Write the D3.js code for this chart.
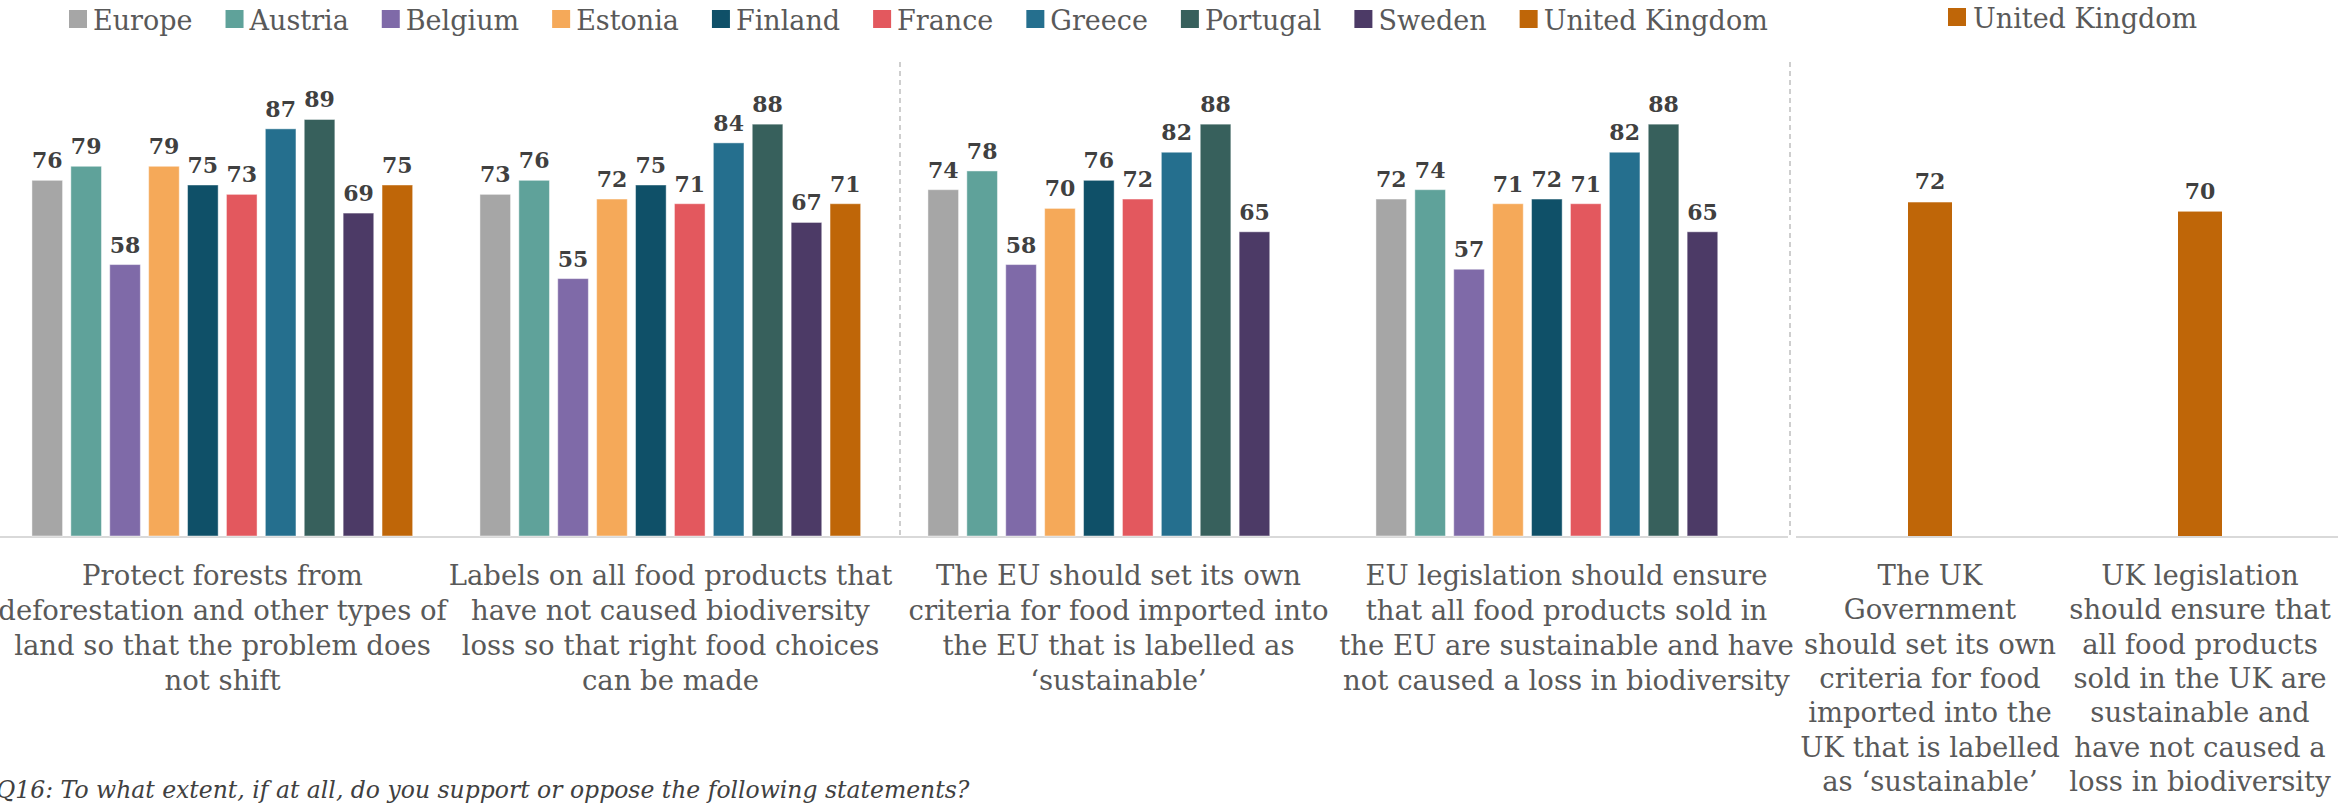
<!DOCTYPE html>
<html>
<head>
<meta charset="utf-8">
<script src="https://cdn.jsdelivr.net/npm/d3@7"></script>
<style>
  body { margin: 0; background: #fff; }
  svg { display: block; }
</style>
</head>
<body>
<div id="chart"></div>
<script>
// Countries and their colours
const countries = ["Europe", "Austria", "Belgium", "Estonia", "Finland", "France", "Greece", "Portugal", "Sweden", "United Kingdom"];
const colors = ["#a6a6a6", "#5fa29a", "#7f6aa8", "#f5a959", "#0f5068", "#e3585e", "#256f8e", "#37605c", "#4c3a66", "#bf6608"];

// Statements (already wrapped as in the original)
const statements = [
  ["Protect forests from", "deforestation and other types of", "land so that the problem does", "not shift"],
  ["Labels on all food products that", "have not caused biodiversity", "loss so that right food choices", "can be made"],
  ["The EU should set its own", "criteria for food imported into", "the EU that is labelled as", "\u2018sustainable\u2019"],
  ["EU legislation should ensure", "that all food products sold in", "the EU are sustainable and have", "not caused a loss in biodiversity"]
];
const ukStatements = [
  ["The UK", "Government", "should set its own", "criteria for food", "imported into the", "UK that is labelled", "as \u2018sustainable\u2019"],
  ["UK legislation", "should ensure that", "all food products", "sold in the UK are", "sustainable and", "have not caused a", "loss in biodiversity"]
];

// % support, one value per statement (null = not asked)
const europe   = [76, 73, 74, 72];
const austria  = [79, 76, 78, 74];
const belgium  = [58, 55, 58, 57];
const estonia  = [79, 72, 70, 71];
const finland  = [75, 75, 76, 72];
const france   = [73, 71, 72, 71];
const greece   = [87, 84, 82, 82];
const portugal = [89, 88, 88, 88];
const sweden   = [69, 67, 65, 65];
const uk       = [75, 71, null, null];
const ukOnly   = [72, 70];

const series = [europe, austria, belgium, estonia, finland, france, greece, portugal, sweden, uk];

const question = "Q16: To what extent, if at all, do you support or oppose the following statements?";

const W = 2338, H = 807;
const baseY = 536;
const serif = "'DejaVu Serif', Georgia, serif";
const textCol = "#595959";

const svg = d3.select("#chart").append("svg")
  .attr("width", W)
  .attr("height", H);

// ---- left chart (Europe) ----
let x0 = d3.scaleBand().domain(d3.range(statements.length)).range([-1.5, 1790.5]);
let x1 = d3.scaleBand().domain(countries).range([29.3, 418.3]).paddingInner(0.213).paddingOuter(0.1065);
let y = d3.scaleLinear().domain([0, 100]).range([baseY, 68]);

let bars = [];
series.forEach((vals, ci) => {
  vals.forEach((v, qi) => {
    if (v === null) return;
    bars.push({q: qi, c: countries[ci], color: colors[ci], v: v});
  });
});

svg.append("line")
  .attr("x1", 0).attr("x2", 1788)
  .attr("y1", baseY + 1).attr("y2", baseY + 1)
  .attr("stroke", "#d9d9d9").attr("stroke-width", 2);

let left = svg.append("g");
left.selectAll("rect")
  .data(bars)
  .enter().append("rect")
  .attr("x", d => x0(d.q) + x1(d.c))
  .attr("width", x1.bandwidth())
  .attr("y", d => y(d.v))
  .attr("height", d => baseY - y(d.v))
  .attr("fill", d => d.color)
  .attr("stroke", "rgba(255,255,255,0.45)")
  .attr("stroke-width", 1);

left.selectAll("text.val")
  .data(bars)
  .enter().append("text")
  .attr("class", "val")
  .attr("x", d => x0(d.q) + x1(d.c) + x1.bandwidth() / 2)
  .attr("y", d => y(d.v) - 12)
  .attr("text-anchor", "middle")
  .attr("font-family", serif)
  .attr("font-weight", "bold")
  .attr("font-size", 22)
  .attr("fill", "#404040")
  .text(d => d.v);

let cat = left.selectAll("text.cat")
  .data(statements)
  .enter().append("text")
  .attr("class", "cat")
  .attr("text-anchor", "middle")
  .attr("font-family", serif)
  .attr("font-size", 27.5)
  .attr("fill", textCol);
cat.selectAll("tspan")
  .data((d, i) => d.map(s => ({s: s, i: i})))
  .enter().append("tspan")
  .attr("x", d => x0(d.i) + x0.bandwidth() / 2)
  .attr("y", (d, j) => 585 + j * 35)
  .text(d => d.s);

// dashed dividers
[900, 1790].forEach(xx => {
  svg.append("line")
    .attr("x1", xx).attr("x2", xx)
    .attr("y1", 62).attr("y2", 538)
    .attr("stroke", "#bfbfbf")
    .attr("stroke-width", 1.5)
    .attr("stroke-dasharray", "5,4");
});

// legend
let lg = svg.append("g");
let lx = 69;
countries.forEach((c, i) => {
  lg.append("rect").attr("x", lx).attr("y", 10).attr("width", 18).attr("height", 18).attr("fill", colors[i]);
  let t = lg.append("text")
    .attr("x", lx + 24).attr("y", 30)
    .attr("font-family", serif).attr("font-size", 27)
    .attr("fill", textCol)
    .text(c);
  lx += 24 + t.node().getComputedTextLength() + 33;
});

// ---- right chart (UK only) ----
let xr = d3.scaleBand().domain(d3.range(ukOnly.length)).range([1795, 2335]);
let yr = d3.scaleLinear().domain([0, 100]).range([baseY, 72.5]);
const barW = 44;

svg.append("line")
  .attr("x1", 1796).attr("x2", W)
  .attr("y1", baseY + 1).attr("y2", baseY + 1)
  .attr("stroke", "#d9d9d9").attr("stroke-width", 2);

let right = svg.append("g");
right.selectAll("rect")
  .data(ukOnly)
  .enter().append("rect")
  .attr("x", (d, i) => xr(i) + xr.bandwidth() / 2 - barW / 2)
  .attr("width", barW)
  .attr("y", d => yr(d))
  .attr("height", d => baseY - yr(d))
  .attr("fill", colors[9]);

right.selectAll("text.val")
  .data(ukOnly)
  .enter().append("text")
  .attr("class", "val")
  .attr("x", (d, i) => xr(i) + xr.bandwidth() / 2)
  .attr("y", d => yr(d) - 13)
  .attr("text-anchor", "middle")
  .attr("font-family", serif)
  .attr("font-weight", "bold")
  .attr("font-size", 22)
  .attr("fill", "#404040")
  .text(d => d);

let rcat = right.selectAll("text.cat")
  .data(ukStatements)
  .enter().append("text")
  .attr("class", "cat")
  .attr("text-anchor", "middle")
  .attr("font-family", serif)
  .attr("font-size", 27.5)
  .attr("fill", textCol);
rcat.selectAll("tspan")
  .data((d, i) => d.map(s => ({s: s, i: i})))
  .enter().append("tspan")
  .attr("x", d => xr(d.i) + xr.bandwidth() / 2)
  .attr("y", (d, j) => 585 + j * 34.3)
  .text(d => d.s);

svg.append("rect").attr("x", 1948).attr("y", 8).attr("width", 18).attr("height", 18).attr("fill", colors[9]);
svg.append("text")
  .attr("x", 1973).attr("y", 28)
  .attr("font-family", serif).attr("font-size", 27)
  .attr("fill", textCol)
  .text(countries[9]);

// question footnote
svg.append("text")
  .attr("x", -4).attr("y", 798)
  .attr("font-family", serif)
  .attr("font-style", "italic")
  .attr("font-size", 23.5)
  .attr("fill", "#404040")
  .text(question);
</script>
</body>
</html>
